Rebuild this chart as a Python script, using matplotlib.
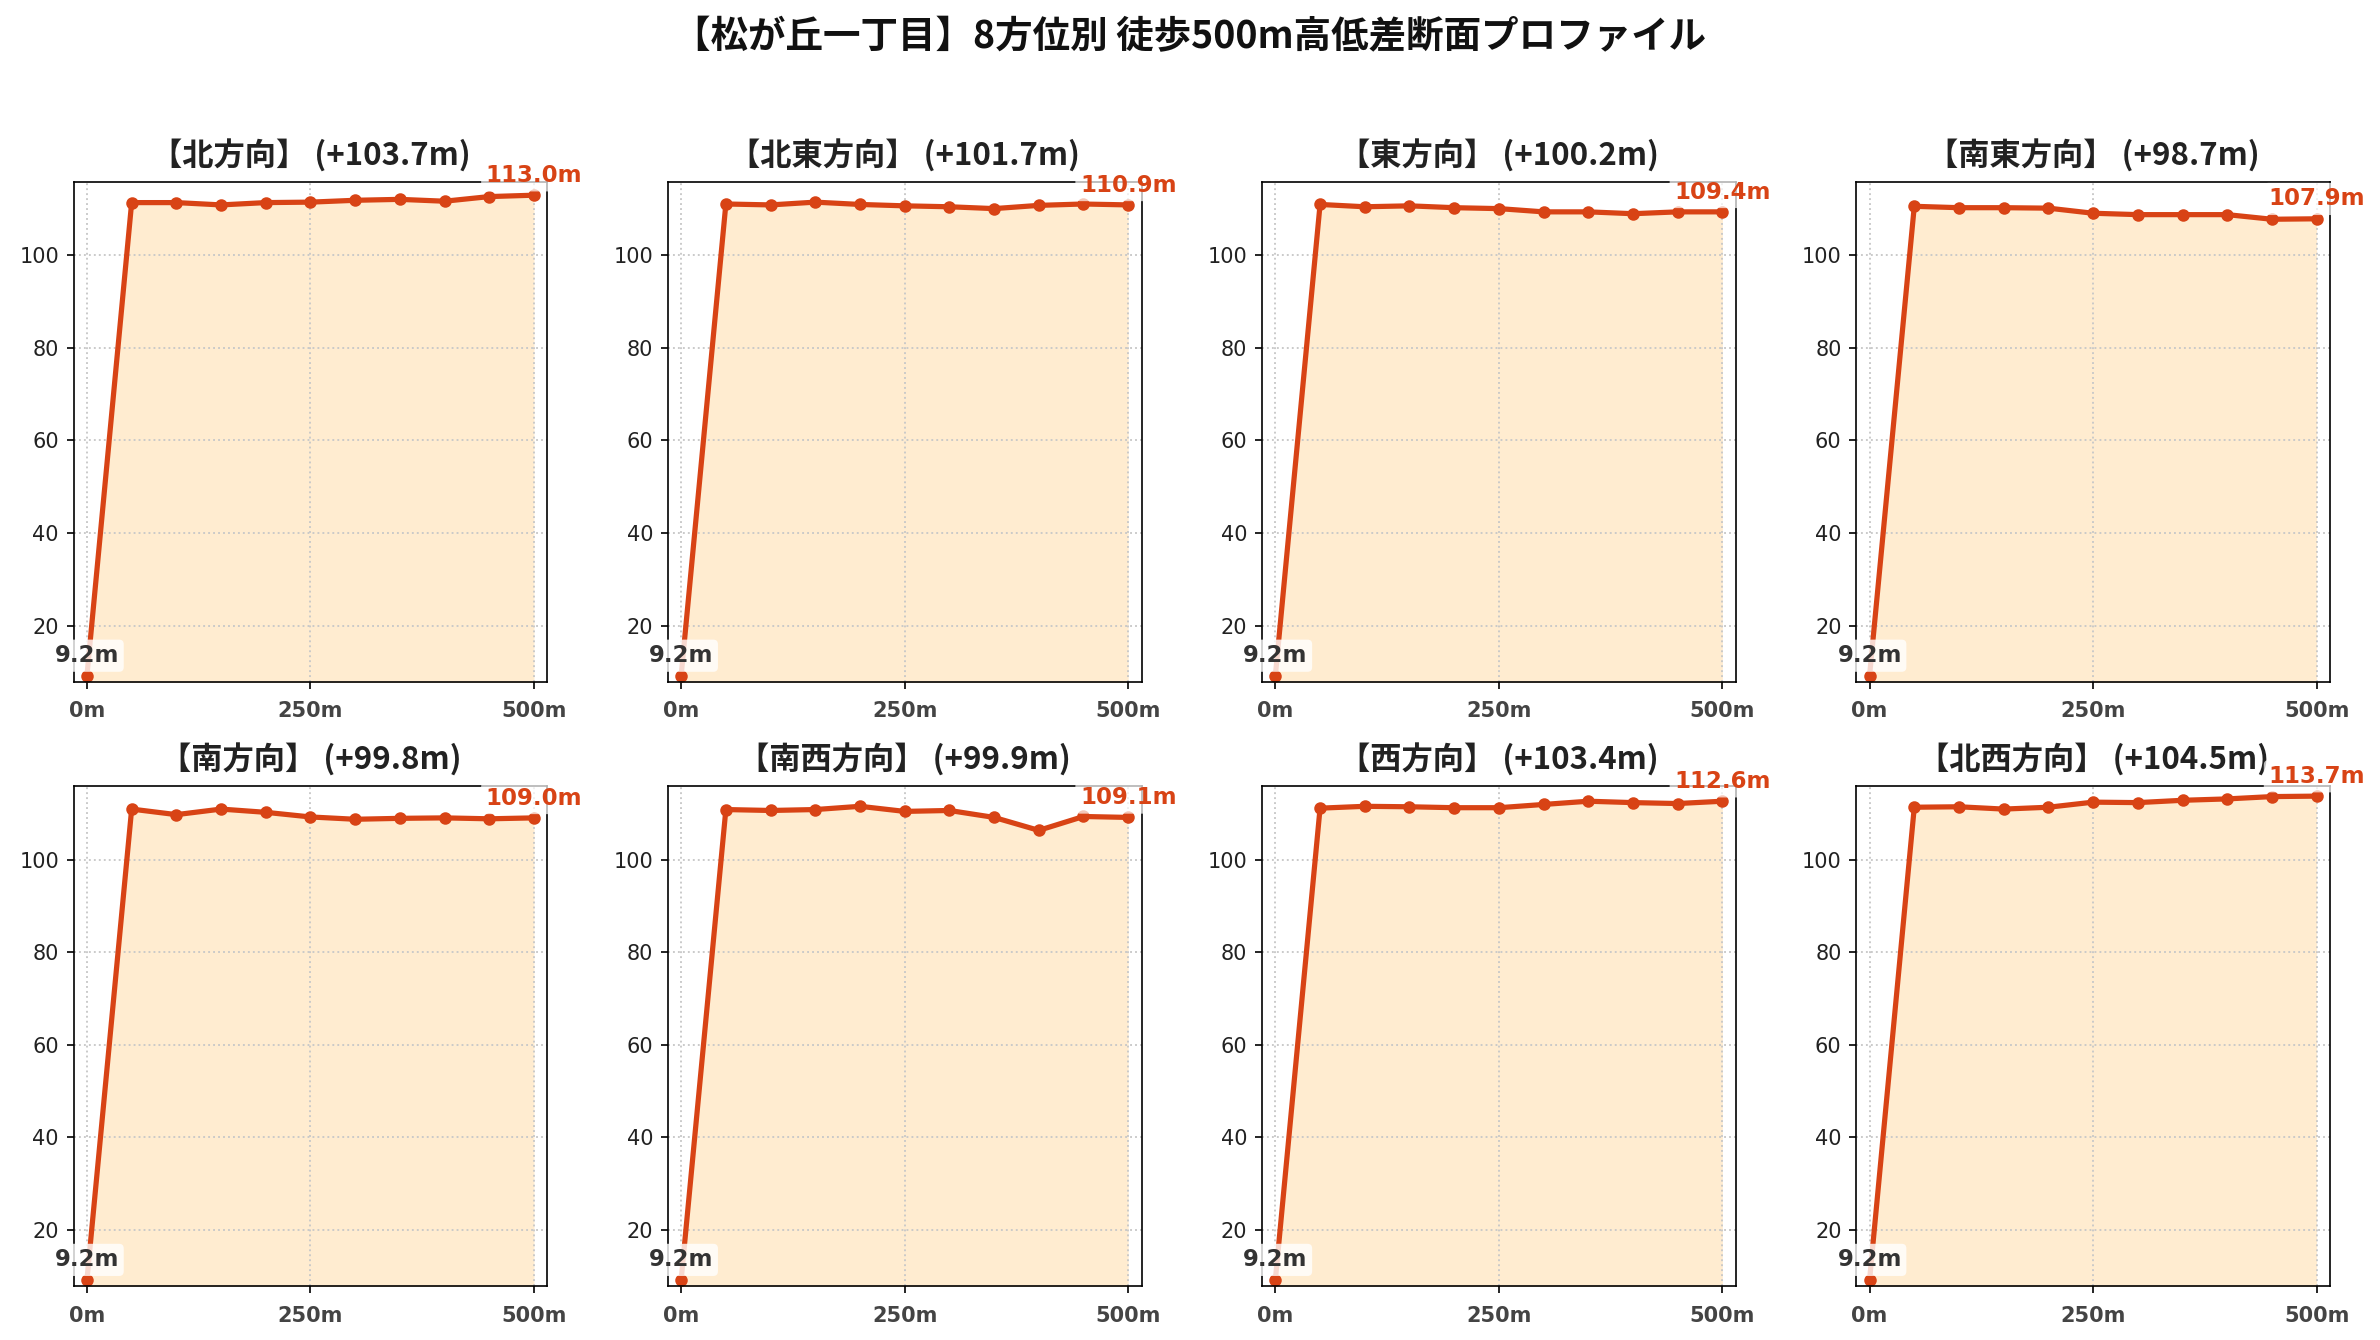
import numpy as np
import matplotlib
matplotlib.use("Agg")
import matplotlib.pyplot as plt

# distances along each walk (m)
distance = [0, 50, 100, 150, 200, 250, 300, 350, 400, 450, 500]

directions = ['北', '北東', '東', '南東', '南', '南西', '西', '北西']
gains = [103.7, 101.7, 100.2, 98.7, 99.8, 99.9, 103.4, 104.5]

elev_n = [9.2, 111.4, 111.4, 110.9, 111.4, 111.5, 111.9, 112.1, 111.7, 112.7, 113.0]
elev_ne = [9.2, 111.1, 110.9, 111.5, 111.0, 110.7, 110.5, 110.1, 110.8, 111.1, 110.9]
elev_e = [9.2, 111.0, 110.5, 110.7, 110.3, 110.1, 109.4, 109.4, 109.0, 109.4, 109.4]
elev_se = [9.2, 110.6, 110.3, 110.3, 110.2, 109.1, 108.8, 108.8, 108.8, 107.8, 107.9]
elev_s = [9.2, 110.9, 109.7, 110.9, 110.2, 109.2, 108.7, 108.9, 109.0, 108.8, 109.0]
elev_sw = [9.2, 110.8, 110.6, 110.8, 111.5, 110.4, 110.6, 109.1, 106.3, 109.3, 109.1]
elev_w = [9.2, 111.1, 111.5, 111.4, 111.2, 111.2, 111.9, 112.6, 112.3, 112.1, 112.6]
elev_nw = [9.2, 111.3, 111.4, 110.9, 111.3, 112.4, 112.3, 112.8, 113.1, 113.6, 113.7]

profiles = [elev_n, elev_ne, elev_e, elev_se, elev_s, elev_sw, elev_w, elev_nw]

xtick_vals = [0, 250, 500]
xtick_labels = ['0m', '250m', '500m']

LINE = '#D84315'
JP = ['Noto Sans CJK JP', 'DejaVu Sans']

fig, axes = plt.subplots(2, 4, figsize=(2380 / 150, 1340 / 150), dpi=150)
fig.subplots_adjust(left=0.0309, right=0.979, bottom=0.0405, top=0.864,
                    wspace=0.254, hspace=0.210)

for ax, name, gain, elev in zip(axes.flat, directions, gains, profiles):
    x = np.array(distance)
    y = np.array(elev)
    ax.fill_between(x, y, 0, color='#FFE0B2', alpha=0.6, linewidth=0)
    ax.plot(x, y, color=LINE, linewidth=2.5, marker='o', markersize=5)

    ax.set_xlim(-15, 515)
    ax.set_ylim(7.9, 115.8)
    ax.grid(True, linestyle=':', color='#C8C8C8', linewidth=0.9)

    ax.set_xticks(xtick_vals)
    ax.set_xticklabels(xtick_labels, fontsize=10, fontweight='bold', color='#444444')
    ax.tick_params(axis='y', labelsize=10, labelcolor='#222222')
    ax.tick_params(axis='x', pad=6)

    ax.set_title(f'【{name}方向】 (+{gain:.1f}m)', family=JP, fontsize=15,
                 fontweight='bold', color='#222222', pad=8)

    # start / end labels
    ax.annotate(f'{y[0]:.1f}m', (x[0], y[0]), xytext=(0, 4), textcoords='offset points',
                ha='center', va='bottom', fontsize=11, fontweight='bold', color='#333333',
                bbox=dict(boxstyle='round,pad=0.2', fc='white', ec='none', alpha=0.8),
                zorder=5)
    ax.annotate(f'{y[-1]:.1f}m', (x[-1], y[-1]), xytext=(0, 4), textcoords='offset points',
                ha='center', va='bottom', fontsize=11, fontweight='bold', color=LINE,
                bbox=dict(boxstyle='round,pad=0.2', fc='white', ec='none', alpha=0.7),
                zorder=5, annotation_clip=False)

fig.suptitle('【松が丘一丁目】8方位別 徒歩500m高低差断面プロファイル', family=JP,
             fontsize=18, fontweight='bold', color='#111111', y=0.987, va='top')

fig.savefig('out.png', dpi=150)
